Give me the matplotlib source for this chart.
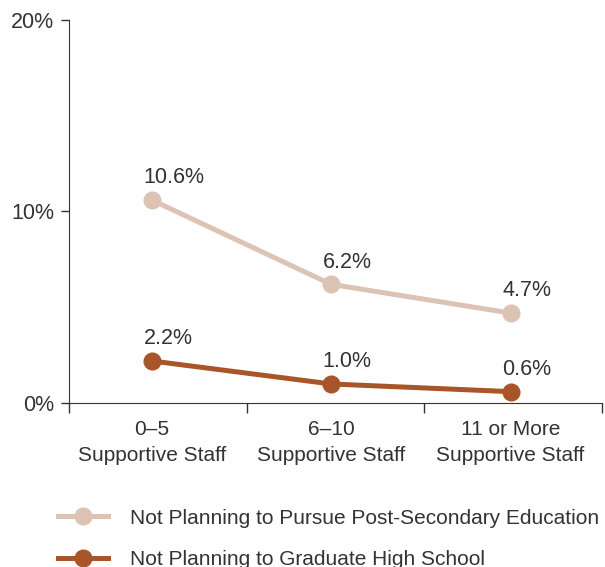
import numpy as np
import matplotlib.pyplot as plt
from matplotlib.ticker import FuncFormatter
from matplotlib.lines import Line2D

plt.rcParams['font.family'] = ['Liberation Sans', 'DejaVu Sans']

categories = ['0\u20135\nSupportive Staff', '6\u201310\nSupportive Staff', '11 or More\nSupportive Staff']
post_secondary = [10.6, 6.2, 4.7]
high_school = [2.2, 1.0, 0.6]
series_names = ['Not Planning to Pursue Post-Secondary Education',
                'Not Planning to Graduate High School']
colors = ['#dcc3b3', '#a9552a']
txt = '#333333'

fig = plt.figure(figsize=(6.05, 5.67), dpi=100)
ax = fig.add_axes([0.1145, 0.289, 0.8805, 0.676])

x = np.arange(len(categories))
for vals, col in zip([post_secondary, high_school], colors):
    ax.plot(x, vals, color=col, lw=3.6, marker='o', ms=12, solid_capstyle='butt')
    for xi, v in zip(x, vals):
        ax.annotate('%.1f%%' % v, (xi, v), xytext=(-6, 8.5), textcoords='offset points',
                    ha='left', va='bottom', fontsize=15.5, color=txt)

ax.set_xlim(-0.46, 2.51)
ax.set_ylim(0, 20)
ax.set_yticks([0, 10, 20])
ax.yaxis.set_major_formatter(FuncFormatter(lambda v, p: '%d%%' % v))
ax.set_xticks([-0.46, 0.53, 1.52, 2.51])
ax.set_xticklabels([])
ax.set_xticks(x, minor=True)
ax.set_xticklabels(categories, minor=True, linespacing=1.45)
ax.tick_params(axis='x', which='minor', length=0, pad=12.5, labelsize=15, colors=txt)
ax.tick_params(axis='x', which='major', length=7, width=1, color=txt)
ax.tick_params(axis='y', length=6, width=1, color=txt, pad=5, labelsize=15.5, labelcolor=txt)
for s in ['top', 'right']:
    ax.spines[s].set_visible(False)
for s in ['left', 'bottom']:
    ax.spines[s].set_color(txt)

handles = [Line2D([], [], color=c, lw=3.6, marker='o', ms=12) for c in colors]
fig.legend(handles, series_names, loc='upper left', bbox_to_anchor=(0.096, 0.103),
           frameon=False, fontsize=15, handlelength=2.4, handletextpad=1.05,
           labelspacing=1.08, borderpad=0, borderaxespad=0, labelcolor=txt)

fig.savefig('out.png', dpi=100)
